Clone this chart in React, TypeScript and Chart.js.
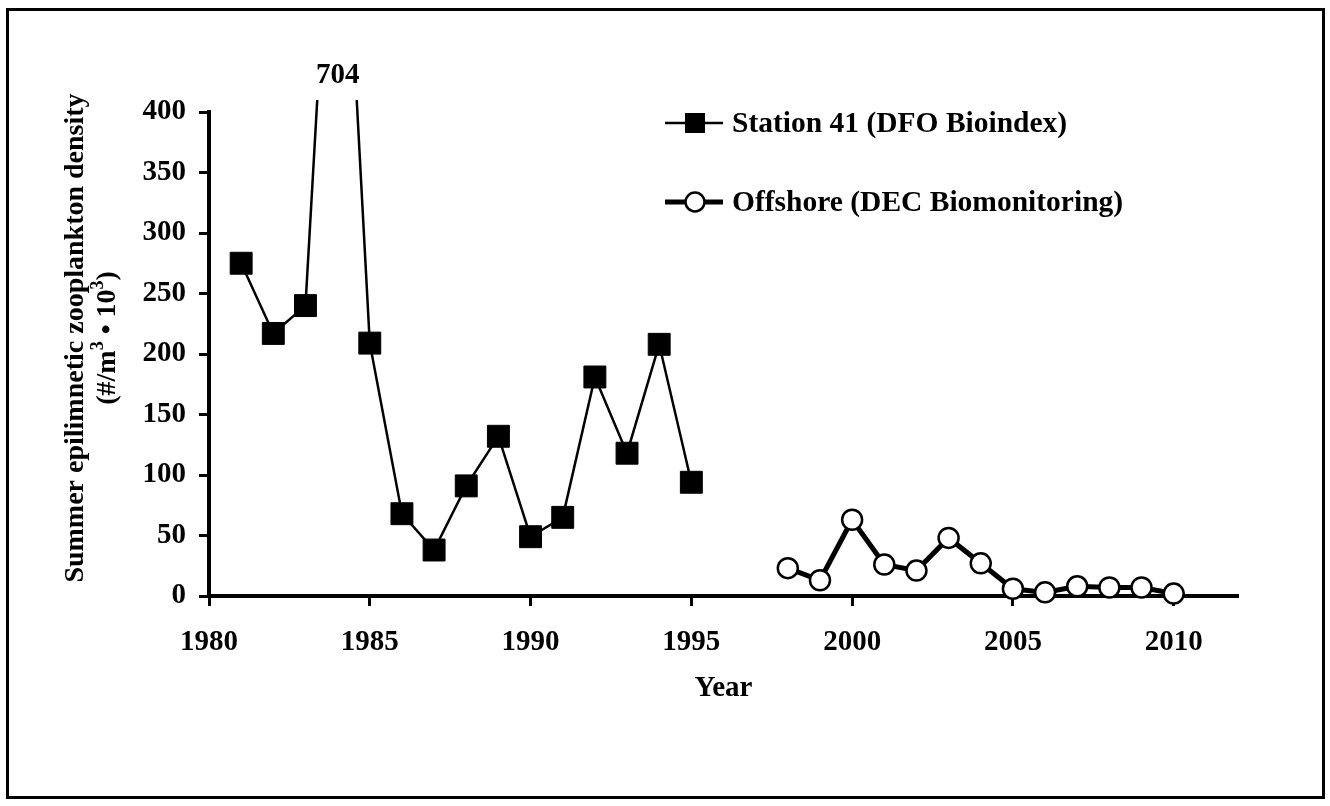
import React, { useEffect, useRef } from "react";
import { Chart, registerables } from "chart.js";

Chart.register(...registerables);

// ---- data ----
const stationYears = [1981, 1982, 1983, 1984, 1985, 1986, 1987, 1988, 1989, 1990, 1991, 1992, 1993, 1994, 1995];
const stationValues = [275, 217, 240, 704, 209, 68, 38, 91, 132, 49, 65, 181, 118, 208, 94];
const offshoreYears = [1998, 1999, 2000, 2001, 2002, 2003, 2004, 2005, 2006, 2007, 2008, 2009, 2010];
const offshoreValues = [23, 13, 63, 26, 21, 48, 27, 6, 3, 8, 7, 7, 2];

const stationLabel = "Station 41 (DFO Bioindex)";
const offshoreLabel = "Offshore (DEC Biomonitoring)";
const xTitle = "Year";
const yTitleLine1 = "Summer epilimnetic zooplankton density";
const yTitleLine2 = [
  { text: "(#/m", sup: false },
  { text: "3", sup: true },
  { text: " \u2022 10", sup: false },
  { text: "3", sup: true },
  { text: ")", sup: false },
];

const xMin = 1980;
const xMax = 2012;
const xStep = 5;
const yMin = 0;
const yMax = 400;
const yStep = 50;

const FONT_FAMILY = "'Liberation Serif', 'Times New Roman', serif";
const FONT_SIZE = 29;
const LEGEND_FONT_SIZE = 29.5;
const YTITLE_FONT_SIZE = 28;

const decorPlugin = {
  id: "decor",
  beforeDraw(chart: any) {
    const { ctx, width, height } = chart;
    ctx.save();
    ctx.fillStyle = "#fff";
    ctx.fillRect(0, 0, width, height);
    ctx.strokeStyle = "#000";
    ctx.lineWidth = 3;
    ctx.strokeRect(7.5, 9.5, 1316, 788);
    ctx.restore();
  },
  afterDatasetsDraw(chart: any) {
    const { ctx, chartArea } = chart;
    const xs = chart.scales.x;
    ctx.save();
    ctx.fillStyle = "#000";
    ctx.font = `bold ${FONT_SIZE}px ${FONT_FAMILY}`;
    ctx.textAlign = "center";
    ctx.textBaseline = "middle";
    stationValues.forEach((v, i) => {
      if (v > yMax) {
        ctx.fillText(String(v), xs.getPixelForValue(stationYears[i]), chartArea.top - 36);
      }
    });
    ctx.restore();
  },
  afterDraw(chart: any) {
    const { ctx, chartArea } = chart;
    ctx.save();
    ctx.fillStyle = "#000";
    ctx.strokeStyle = "#000";
    const normalFont = `bold ${FONT_SIZE}px ${FONT_FAMILY}`;
    const titleFont = `bold ${YTITLE_FONT_SIZE}px ${FONT_FAMILY}`;
    const supFont = `bold 18px ${FONT_FAMILY}`;
    ctx.font = normalFont;
    ctx.textBaseline = "middle";

    // x title
    ctx.textAlign = "center";
    ctx.fillText(xTitle, (chartArea.left + chartArea.right) / 2, 689);

    // y title (two lines, rotated)
    const cy = 338;
    ctx.save();
    ctx.font = titleFont;
    ctx.translate(76, cy);
    ctx.rotate(-Math.PI / 2);
    ctx.textAlign = "center";
    ctx.fillText(yTitleLine1, 0, 0);
    ctx.restore();

    ctx.save();
    ctx.translate(108, cy);
    ctx.rotate(-Math.PI / 2);
    ctx.textAlign = "left";
    let total = 0;
    yTitleLine2.forEach((r) => {
      ctx.font = r.sup ? supFont : titleFont;
      total += ctx.measureText(r.text).width;
    });
    let px = -total / 2;
    yTitleLine2.forEach((r) => {
      ctx.font = r.sup ? supFont : titleFont;
      ctx.fillText(r.text, px, r.sup ? -10 : 0);
      px += ctx.measureText(r.text).width;
    });
    ctx.restore();

    // legend
    ctx.font = `bold ${LEGEND_FONT_SIZE}px ${FONT_FAMILY}`;
    ctx.textAlign = "left";
    const sx0 = chartArea.left + 456;
    const sx1 = sx0 + 58;
    const mx = sx0 + 30;
    const tx = sx0 + 67;
    chart.data.datasets.forEach((ds: any, i: number) => {
      const y = i === 0 ? 123 : 202;
      ctx.lineWidth = ds.borderWidth;
      ctx.strokeStyle = ds.borderColor;
      ctx.beginPath();
      ctx.moveTo(sx0, y);
      ctx.lineTo(sx1, y);
      ctx.stroke();
      if (ds.pointStyle === "rect") {
        ctx.fillStyle = ds.pointBackgroundColor;
        ctx.fillRect(mx - 10, y - 10, 20, 20);
      } else {
        ctx.beginPath();
        ctx.arc(mx, y, 9.5, 0, Math.PI * 2);
        ctx.fillStyle = ds.pointBackgroundColor;
        ctx.fill();
        ctx.lineWidth = ds.pointBorderWidth;
        ctx.strokeStyle = ds.pointBorderColor;
        ctx.stroke();
      }
      ctx.fillStyle = "#000";
      ctx.fillText(ds.label, tx, y + 1);
    });
    ctx.restore();
  },
};

export default function App() {
  const canvasRef = useRef<HTMLCanvasElement | null>(null);

  useEffect(() => {
    if (!canvasRef.current) return;
    const tickFont = { family: FONT_FAMILY, size: FONT_SIZE, weight: "bold" as const };
    const chart = new Chart(canvasRef.current, {
      type: "line",
      data: {
        datasets: [
          {
            label: stationLabel,
            data: stationYears.map((yr, i) => ({ x: yr, y: stationValues[i] })),
            borderColor: "#000",
            backgroundColor: "#000",
            borderWidth: 2.5,
            pointStyle: "rect",
            pointRadius: 15.5,
            pointBackgroundColor: "#000",
            pointBorderColor: "#000",
            pointBorderWidth: 1,
            tension: 0,
            clip: { left: 30, top: 12, right: 30, bottom: 30 } as any,
          },
          {
            label: offshoreLabel,
            data: offshoreYears.map((yr, i) => ({ x: yr, y: offshoreValues[i] })),
            borderColor: "#000",
            backgroundColor: "#fff",
            borderWidth: 5,
            pointStyle: "circle",
            pointRadius: 10,
            pointBackgroundColor: "#fff",
            pointBorderColor: "#000",
            pointBorderWidth: 2.5,
            tension: 0,
            clip: { left: 30, top: 12, right: 30, bottom: 30 } as any,
          },
        ],
      },
      options: {
        animation: false,
        responsive: true,
        maintainAspectRatio: false,
        events: [],
        layout: { padding: { left: 0, top: 112, right: 92, bottom: 0 } },
        plugins: {
          legend: { display: false },
          tooltip: { enabled: false },
        },
        scales: {
          x: {
            type: "linear",
            min: xMin,
            max: xMax,
            ticks: {
              stepSize: xStep,
              includeBounds: false,
              color: "#000",
              font: tickFont,
              padding: 19,
              maxRotation: 0,
              callback: (v: any) => String(v),
            },
            grid: {
              drawOnChartArea: false,
              drawTicks: true,
              tickLength: 10,
              tickWidth: 3,
              tickColor: "#000",
              color: "#000",
            },
            border: { display: true, color: "#000", width: 4 },
            afterFit: (s: any) => {
              s.height = 210;
            },
          },
          y: {
            type: "linear",
            min: yMin,
            max: yMax,
            ticks: {
              stepSize: yStep,
              includeBounds: false,
              color: "#000",
              font: tickFont,
              padding: 13,
              callback: (v: any) => String(v),
            },
            grid: {
              drawOnChartArea: false,
              drawTicks: true,
              tickLength: 10,
              tickWidth: 3,
              tickColor: "#000",
              color: "#000",
            },
            border: { display: true, color: "#000", width: 4 },
            afterFit: (s: any) => {
              s.width = 209;
            },
          },
        },
      },
      plugins: [decorPlugin],
    });
    return () => chart.destroy();
  }, []);

  return (
    <div style={{ position: "absolute", left: 0, top: 0, width: 1330, height: 806, background: "#fff" }}>
      <canvas ref={canvasRef} />
    </div>
  );
}
